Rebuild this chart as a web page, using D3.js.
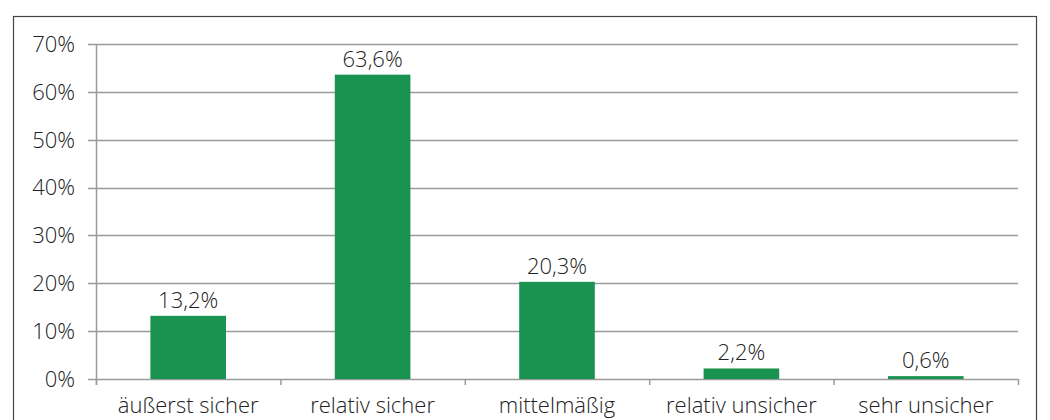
<!DOCTYPE html>
<html>
<head>
<meta charset="utf-8">
<script src="https://cdn.jsdelivr.net/npm/d3@7"></script>
<style>
    body { margin: 0; background: #fff; }
    text { font-family: "Open Sans", "DejaVu Sans", sans-serif; fill: #222; font-weight: 300; }
</style>
</head>
<body>
<div id="chart"></div>
<script>
let categories = ["äußerst sicher", "relativ sicher", "mittelmäßig", "relativ unsicher", "sehr unsicher"],
    values = [13.2, 63.6, 20.3, 2.2, 0.6],
    yTicks = [0, 10, 20, 30, 40, 50, 60, 70];

function drawchart() {
    let width = 1050,
        height = 420,
        margin = { left: 96, right: 32, top: 44, bottom: 41 };

    let svg = d3.select("#chart")
        .append("svg")
        .attr("width", width)
        .attr("height", height);

    // outer frame
    svg.append("rect")
        .attr("x", 13.5)
        .attr("y", 16.5)
        .attr("width", 1023)
        .attr("height", 430)
        .style("fill", "none")
        .style("stroke", "#444")
        .style("stroke-width", 1.2);

    let x = d3.scaleBand()
        .domain(categories)
        .range([margin.left, width - margin.right])
        .paddingInner(0.59)
        .paddingOuter(0.295);

    let y = d3.scaleLinear()
        .domain([0, 70])
        .range([height - margin.bottom, margin.top]);

    // gridlines
    svg.append("g")
        .selectAll("line")
        .data(yTicks)
        .enter()
        .append("line")
        .attr("x1", margin.left - 8)
        .attr("x2", width - margin.right)
        .attr("y1", function (d) { return Math.round(y(d)) + 0.5; })
        .attr("y2", function (d) { return Math.round(y(d)) + 0.5; })
        .style("stroke", "#9a9a9a")
        .style("stroke-width", 1.5);

    // y labels
    svg.append("g")
        .selectAll("text")
        .data(yTicks)
        .enter()
        .append("text")
        .attr("x", 75)
        .attr("y", function (d) { return y(d); })
        .attr("dy", "0.36em")
        .style("text-anchor", "end")
        .style("font-size", "22px")
        .text(function (d) { return d + "%"; });

    // y axis line
    svg.append("line")
        .attr("x1", margin.left + 0.5)
        .attr("x2", margin.left + 0.5)
        .attr("y1", y(70))
        .attr("y2", y(0) + 6)
        .style("stroke", "#9a9a9a")
        .style("stroke-width", 1.5);

    // x tick marks at band boundaries
    let step = x.step(),
        bounds = d3.range(categories.length + 1);
    svg.append("g")
        .selectAll("line")
        .data(bounds)
        .enter()
        .append("line")
        .attr("x1", function (d) { return margin.left + d * step + 0.5; })
        .attr("x2", function (d) { return margin.left + d * step + 0.5; })
        .attr("y1", y(0))
        .attr("y2", y(0) + 6)
        .style("stroke", "#9a9a9a")
        .style("stroke-width", 1.5);

    // bars
    svg.selectAll(".bar")
        .data(values)
        .enter()
        .append("rect")
        .attr("class", "bar")
        .attr("x", function (d, i) { return x(categories[i]); })
        .attr("y", function (d) { return y(d); })
        .attr("width", x.bandwidth())
        .attr("height", function (d) { return y(0) - y(d); })
        .style("fill", "#19934f");

    // value labels
    svg.selectAll(".vlabel")
        .data(values)
        .enter()
        .append("text")
        .attr("class", "vlabel")
        .attr("x", function (d, i) { return x(categories[i]) + x.bandwidth() / 2; })
        .attr("y", function (d) { return y(d) - 8; })
        .style("text-anchor", "middle")
        .style("font-size", "22px")
        .text(function (d) { return d.toFixed(1).replace(".", ",") + "%"; });

    // category labels
    svg.selectAll(".clabel")
        .data(categories)
        .enter()
        .append("text")
        .attr("class", "clabel")
        .attr("x", function (d) { return x(d) + x.bandwidth() / 2; })
        .attr("y", 413)
        .style("text-anchor", "middle")
        .style("font-size", "22px")
        .text(function (d) { return d; });
}

drawchart();
</script>
</body>
</html>
